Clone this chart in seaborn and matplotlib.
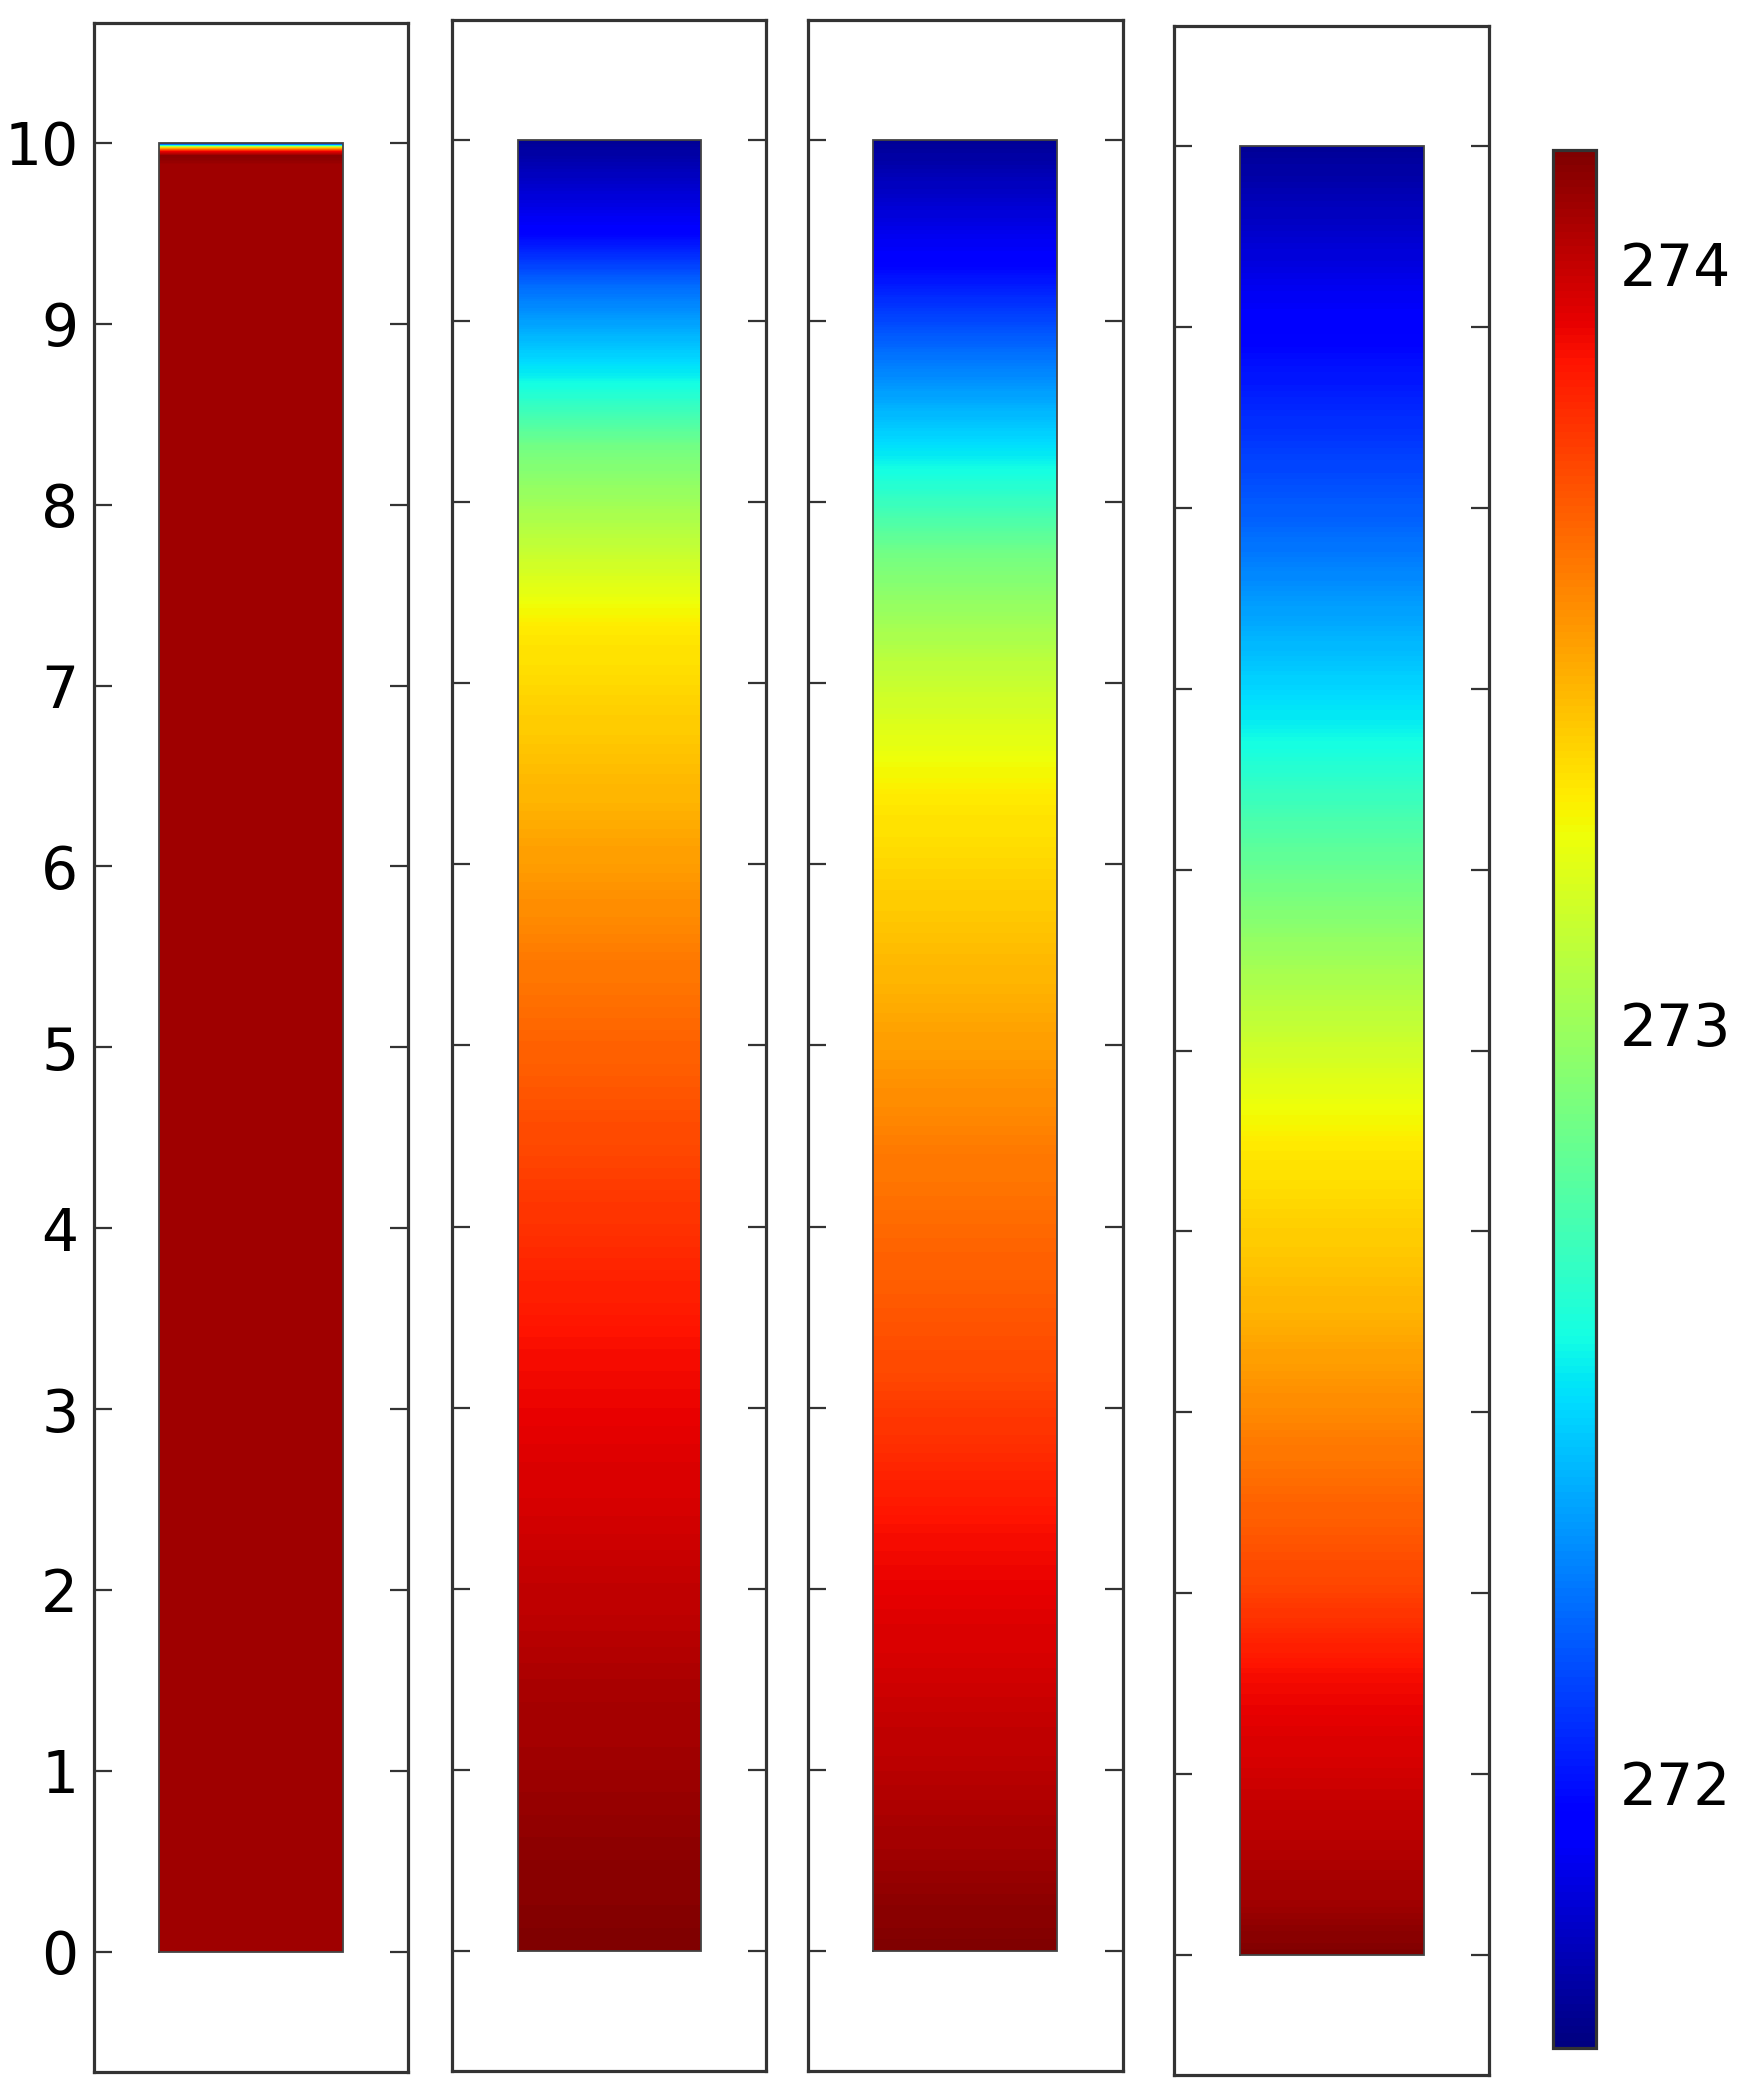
import numpy as np
import matplotlib
matplotlib.use("Agg")
import matplotlib.pyplot as plt
from matplotlib.colors import Normalize
from matplotlib.cm import ScalarMappable
import seaborn as sns

# -------------------------------------------------------------------
# Data: temperature (K) along the column height
# -------------------------------------------------------------------
T_MIN, T_MAX = 271.65, 274.15
CBAR_TICKS = [272, 273, 274]
Y_TICKS = list(range(0, 11))

column_x = [0.0, 1.0]

# panel 1 - only a thin cold layer at the top
h1 = [0.0, 9.88, 9.93, 9.955, 9.97, 9.978, 9.987, 10.0]
t1 = [274.08, 274.08, 274.13, 273.90, 273.50, 273.30, 272.55, 271.70]

# panel 2
h2 = [0.0, 1.5, 2.3, 3.2, 4.4, 5.47, 6.4, 7.32, 8.3, 8.7, 9.2, 9.53, 10.0]
t2 = [274.15, 274.05, 273.975, 273.90, 273.74, 273.60, 273.44, 273.30,
      272.88, 272.55, 272.225, 271.925, 271.70]

# panel 3
h3 = [0.0, 0.75, 2.21, 3.24, 4.4, 5.4, 6.39, 7.1, 7.7, 8.24, 8.8, 9.39, 10.0]
t3 = [274.15, 274.05, 273.90, 273.725, 273.60, 273.44, 273.30, 273.10,
      272.88, 272.55, 272.25, 271.925, 271.70]

# panel 4
h4 = [0.0, 0.3, 0.8, 1.5, 2.0, 2.82, 3.6, 4.5, 5.45, 6.2, 6.8, 7.95, 9.1, 10.0]
t4 = [274.15, 274.075, 274.0, 273.90, 273.75, 273.60, 273.44, 273.30,
      273.025, 272.775, 272.55, 272.20, 271.925, 271.70]

heights = [h1, h2, h3, h4]
temps = [t1, t2, t3, t4]

# -------------------------------------------------------------------
# Style
# -------------------------------------------------------------------
sns.set_theme(style="white")
plt.rcParams["font.family"] = ["DejaVu Sans"]
FRAME = "#333333"
FS = 42

cmap = matplotlib.colormaps["jet"]
norm = Normalize(vmin=T_MIN, vmax=T_MAX)
levels = np.linspace(T_MIN, T_MAX, 301)

W, H = 1738, 2096
fig = plt.figure(figsize=(W / 100, H / 100), dpi=100)

# axes boxes in pixels: left, top, right, bottom
boxes = [
    (93.6, 22.7, 407.8, 2072.0),
    (452.0, 20.0, 766.0, 2071.0),
    (807.5, 20.0, 1123.0, 2071.0),
    (1174.0, 26.0, 1489.0, 2075.0),
]

for i, (h, t) in enumerate(zip(heights, temps)):
    l, tp, r, b = boxes[i]
    ax = fig.add_axes([l / W, 1 - b / H, (r - l) / W, (b - tp) / H])
    Z = np.column_stack([t, t])
    ax.contourf(column_x, h, Z, levels=levels, cmap=cmap, norm=norm,
                antialiased=False, extend="both")
    x0, x1 = min(column_x), max(column_x)
    y0, y1 = min(h), max(h)
    ax.plot([x0, x1, x1, x0, x0], [y0, y0, y1, y1, y0],
            color="#444444", lw=1.3, solid_joinstyle="miter")

    ax.set_xlim(-0.358, 1.356)
    ax.set_ylim(-0.665, 10.665)
    ax.set_xticks([])
    ax.set_yticks(Y_TICKS)
    ax.tick_params(axis="y", direction="in", left=True, right=True,
                   length=13, width=1.6, color=FRAME, pad=11,
                   labelsize=FS, labelcolor="black", labelleft=(i == 0))
    for sp in ax.spines.values():
        sp.set_color(FRAME)
        sp.set_linewidth(2.3)
    ax.set_facecolor("white")

# colour bar
cax = fig.add_axes([1553 / W, 1 - 2048 / H, 43 / W, (2048 - 150) / H])
cb = fig.colorbar(ScalarMappable(norm=norm, cmap=cmap), cax=cax)
cb.set_ticks(CBAR_TICKS)
cb.ax.tick_params(direction="in", left=True, right=True, length=7,
                  width=1.8, color="#222222", labelsize=FS,
                  labelcolor="black", pad=17)
cb.outline.set_edgecolor(FRAME)
cb.outline.set_linewidth(2.3)

fig.savefig("out.png", dpi=100, facecolor="white")
